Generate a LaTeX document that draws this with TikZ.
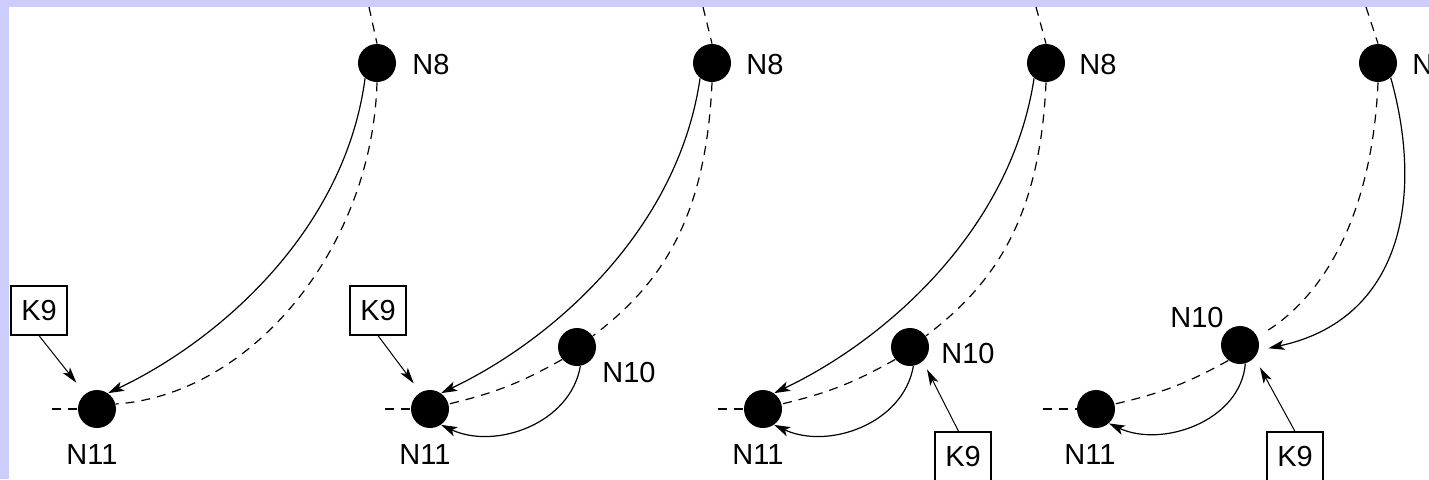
\documentclass[tikz,border=0pt]{standalone}
\usepackage{fontspec}
\setmainfont{Liberation Sans}
\usepackage{tikz}
\usetikzlibrary{arrows.meta, positioning}
\definecolor{framelav}{RGB}{204,204,255}

\begin{document}
\begin{tikzpicture}[
  x=0.5pt, y=-0.5pt,
  font=\fontsize{14.5}{17}\selectfont,
  dot/.style={circle, fill=black, minimum size=19pt, inner sep=0pt},
  kbox/.style={rectangle, draw, line width=0.6pt, minimum width=28pt, minimum height=24.5pt, inner sep=0pt},
  lbl/.style={inner sep=0pt},
  arr/.style={-{Stealth[length=8pt, width=5pt, inset=2pt]}, line width=0.6pt},
  karr/.style={-{Stealth[length=8pt, width=4.5pt, inset=2pt]}, line width=0.5pt},
  dsh/.style={dash pattern=on 4.5pt off 3.5pt, line width=0.6pt}
]
  \useasboundingbox (0,0) rectangle (1429,479);
  \clip (0,0) rectangle (1429,479);
  \fill[white] (0,0) rectangle (1429,479);

  % Panel 1
  \node[dot] (n8a) at (377,63) {};
  \node[dot] (n11a) at (97,409) {};
  \node[kbox] (k9a) at (39,310.5) {K9};
  \node[lbl] (ln8a) at (431,65) {N8};
  \node[lbl] (ln11a) at (92,455) {N11};
  \coordinate (t8a) at (369,7);
  \coordinate (l11a) at (52,409);
  \draw[dsh] (t8a) -- (n8a.north);
  \draw[dsh] (l11a) -- (n11a.west);
  \draw[arr] (n8a.232) .. controls (345,230) and (220,340) .. (n11a.55);
  \draw[dsh] (n8a.270) .. controls (372,250) and (250,395) .. (n11a.15);
  \draw[karr, shorten >=7pt] (k9a.south) -- (n11a.128);

  % Panel 2
  \node[dot] (n8b) at (712,63) {};
  \node[dot] (n10b) at (577,347) {};
  \node[dot] (n11b) at (430,409) {};
  \node[kbox] (k9b) at (378,310.5) {K9};
  \node[lbl] (ln8b) at (765,65) {N8};
  \node[lbl] (ln10b) at (629,373) {N10};
  \node[lbl] (ln11b) at (425,455) {N11};
  \coordinate (t8b) at (703,7);
  \coordinate (l11b) at (385,409);
  \draw[dsh] (t8b) -- (n8b.north);
  \draw[dsh] (l11b) -- (n11b.west);
  \draw[arr] (n8b.232) .. controls (678,230) and (553,340) .. (n11b.55);
  \draw[dsh] (n8b.270) .. controls (706,220) and (660,285) .. (n10b.35);
  \draw[dsh] (n10b.220) to[bend left=8] (n11b.15);
  \draw[arr] (n10b.280) to[out=-100, in=-25] (n11b.305);
  \draw[karr, shorten >=5.5pt] (k9b.south) -- (n11b.120);

  % Panel 3
  \node[dot] (n8c) at (1046,63) {};
  \node[dot] (n10c) at (910,347) {};
  \node[dot] (n11c) at (763,409) {};
  \node[kbox] (k9c) at (963,456.5) {K9};
  \node[lbl] (ln8c) at (1098,65) {N8};
  \node[lbl] (ln10c) at (968,354) {N10};
  \node[lbl] (ln11c) at (758,455) {N11};
  \coordinate (t8c) at (1036,7);
  \coordinate (l11c) at (718,409);
  \draw[dsh] (t8c) -- (n8c.north);
  \draw[dsh] (l11c) -- (n11c.west);
  \draw[arr] (n8c.232) .. controls (1011,230) and (886,340) .. (n11c.55);
  \draw[dsh] (n8c.270) .. controls (1040,220) and (993,285) .. (n10c.35);
  \draw[dsh] (n10c.220) to[bend left=8] (n11c.15);
  \draw[arr] (n10c.280) to[out=-100, in=-25] (n11c.305);
  \draw[karr, shorten >=4.5pt] (k9c.100) -- (n10c.-48);

  % Panel 4
  \node[dot] (n8d) at (1378,63) {};
  \node[dot] (n10d) at (1240,345) {};
  \node[dot] (n11d) at (1096,409) {};
  \node[kbox] (k9d) at (1295,456.5) {K9};
  \node[lbl] (ln8d) at (1431,65) {N8};
  \node[lbl] (ln10d) at (1197,318) {N10};
  \node[lbl] (ln11d) at (1090,455) {N11};
  \coordinate (t8d) at (1366,7);
  \coordinate (l11d) at (1043,409);
  \draw[dsh] (t8d) -- (n8d.north);
  \draw[dsh] (l11d) -- (n11d.west);
  \draw[dsh, shorten >=3pt] (n8d.270) .. controls (1372,220) and (1320,300) .. (n10d.26);
  \draw[arr, shorten >=5pt] (n8d.311) .. controls (1425,200) and (1400,320) .. (n10d.-16);
  \draw[dsh] (n10d.233) to[bend left=8] (n11d.15);
  \draw[arr] (n10d.286) to[out=-95, in=-25] (n11d.312);
  \draw[karr, shorten >=5.5pt] (k9d.north) -- (n10d.-41);

  % Frame
  \fill[framelav] (0,0) rectangle (1429,7);
  \fill[framelav] (0,0) rectangle (9,479);
\end{tikzpicture}
\end{document}
